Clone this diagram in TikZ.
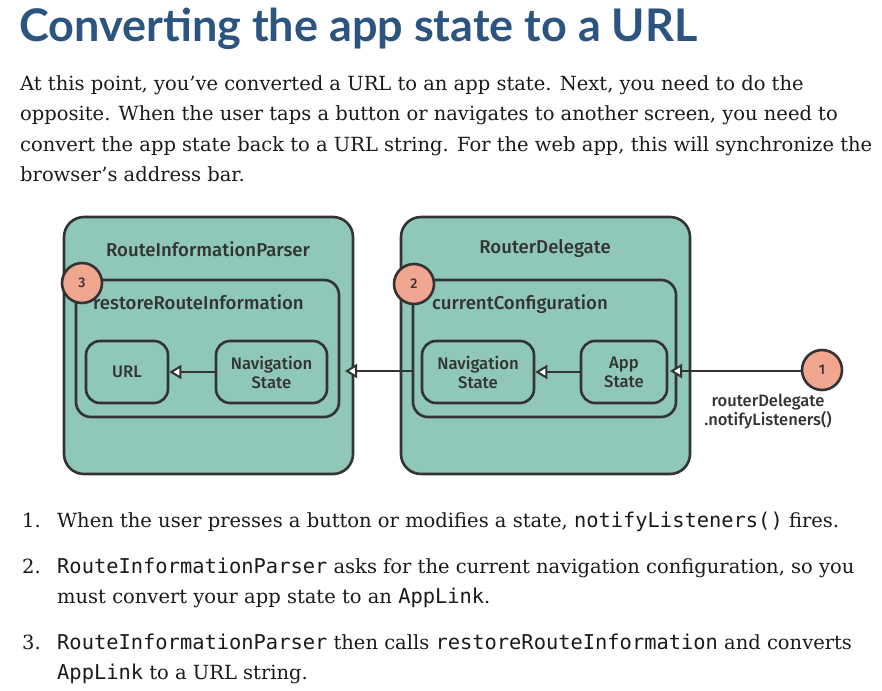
\documentclass[tikz,border=0pt]{standalone}
\usepackage{fontspec}
\usetikzlibrary{arrows.meta}
\newfontfamily\titlefont{Lato}
\newfontfamily\bodyfont{DejaVu Serif}
\newfontfamily\codefont{DejaVu Sans Mono}
\newfontfamily\diafont{Fira Sans Medium}
\definecolor{teal}{RGB}{143,200,184}
\definecolor{salmon}{RGB}{241,166,143}
\definecolor{stroke}{RGB}{51,51,51}
\definecolor{titleblue}{RGB}{44,84,128}
\definecolor{bodytext}{RGB}{26,26,26}
\newcommand{\cd}[1]{{\codefont\fontsize{20.4}{22}\selectfont #1}}
\tikzset{
  outerbox/.style={draw=stroke, fill=teal, line width=2.6pt, rounded corners=20pt},
  innerbox/.style={draw=stroke, fill=teal, line width=2.6pt, rounded corners=15pt},
  statebox/.style={draw=stroke, fill=teal, line width=2.6pt, rounded corners=14pt,
    minimum height=62pt, align=center, font=\diafont\fontsize{16.7}{19}\selectfont, text=stroke, inner sep=0pt},
  numcirc/.style={circle, draw=stroke, fill=salmon, line width=2.6pt, minimum size=40pt, inner sep=0pt,
    font=\diafont\fontsize{14}{15}\selectfont, text=stroke},
  boxtitle/.style={font=\diafont\fontsize{18.6}{20}\selectfont, text=stroke, inner sep=0pt},
  arr/.style={draw=stroke, line width=2.6pt, -{Triangle[fill=white, length=12pt, width=14pt, line width=2pt]}},
  bodyline/.style={anchor=base west, inner sep=0pt, font=\bodyfont\fontsize{19.5}{22}\selectfont, text=bodytext},
}
\begin{document}
\begin{tikzpicture}[x=1pt,y=-1pt]
\useasboundingbox (0,0) rectangle (882,690);
\fill[white] (0,0) rectangle (882,690);
% title
\node[anchor=base west, inner sep=0pt, font=\titlefont\bfseries\fontsize{45}{50}\selectfont, text=titleblue] (title) at (19,42) {Converting the app state to a URL};
% paragraph
\node[bodyline] (p1) at (20,91) {At this point, you’ve converted a URL to an app state. Next, you need to do the};
\node[bodyline] (p2) at (20,121) {opposite. When the user taps a button or navigates to another screen, you need to};
\node[bodyline] (p3) at (20,151) {convert the app state back to a URL string. For the web app, this will synchronize the};
\node[bodyline] (p4) at (20,181) {browser’s address bar.};
% diagram boxes
\node[outerbox, minimum width=289pt, minimum height=257pt] (rip) at (208.5,345.5) {};
\node[outerbox, minimum width=289pt, minimum height=257pt] (rd) at (545.5,345.5) {};
\node[boxtitle] (ripT) at (208,249) {RouteInformationParser};
\node[boxtitle] (rdT) at (545,249) {RouterDelegate};
\node[innerbox, minimum width=263pt, minimum height=137pt] (inner1) at (207.5,348.5) {};
\node[innerbox, minimum width=263pt, minimum height=137pt] (inner2) at (544.5,348.5) {};
\node[boxtitle, anchor=base west] (inner1T) at (93,309) {restoreRouteInformation};
\node[boxtitle, anchor=base west] (inner2T) at (432,309) {currentConfiguration};
\node[statebox, minimum width=82pt] (url) at (127,372) {URL};
\node[statebox, minimum width=111pt] (ns1) at (271.5,372) {Navigation\\State};
\node[statebox, minimum width=112pt] (ns2) at (478,372) {Navigation\\State};
\node[statebox, minimum width=86pt] (app) at (624,372) {App\\State};
\node[numcirc] (c3) at (82,283) {3};
\node[numcirc] (c2) at (414,284) {2};
\node[numcirc] (c1) at (822,370) {1};
\node[boxtitle, font=\diafont\fontsize{16.5}{19}\selectfont, align=center] (lbl) at (768,412) {routerDelegate\\.notifyListeners()};
% connectors
\coordinate (tipA) at (345,371);
\coordinate (tipB) at (670,371);
\draw[arr] (ns1.west) -- (url.east);
\draw[arr] (app.west) -- (ns2.east);
\draw[arr] (inner2.west |- tipA) -- (tipA);
\draw[arr] (c1.west |- tipB) -- (tipB);
% list
\node[bodyline] (n1) at (22,527) {1.};
\node[bodyline] (l1) at (57,527) {When the user presses a button or modifies a state, \cd{notifyListeners()} fires.};
\node[bodyline] (n2) at (22,573) {2.};
\node[bodyline] (l2a) at (57,573) {\cd{RouteInformationParser} asks for the current navigation configuration, so you};
\node[bodyline] (l2b) at (57,603) {must convert your app state to an \cd{AppLink}.};
\node[bodyline] (n3) at (22,649) {3.};
\node[bodyline] (l3a) at (57,649) {\cd{RouteInformationParser} then calls \cd{restoreRouteInformation} and converts};
\node[bodyline] (l3b) at (57,679) {\cd{AppLink} to a URL string.};
\end{tikzpicture}
\end{document}
